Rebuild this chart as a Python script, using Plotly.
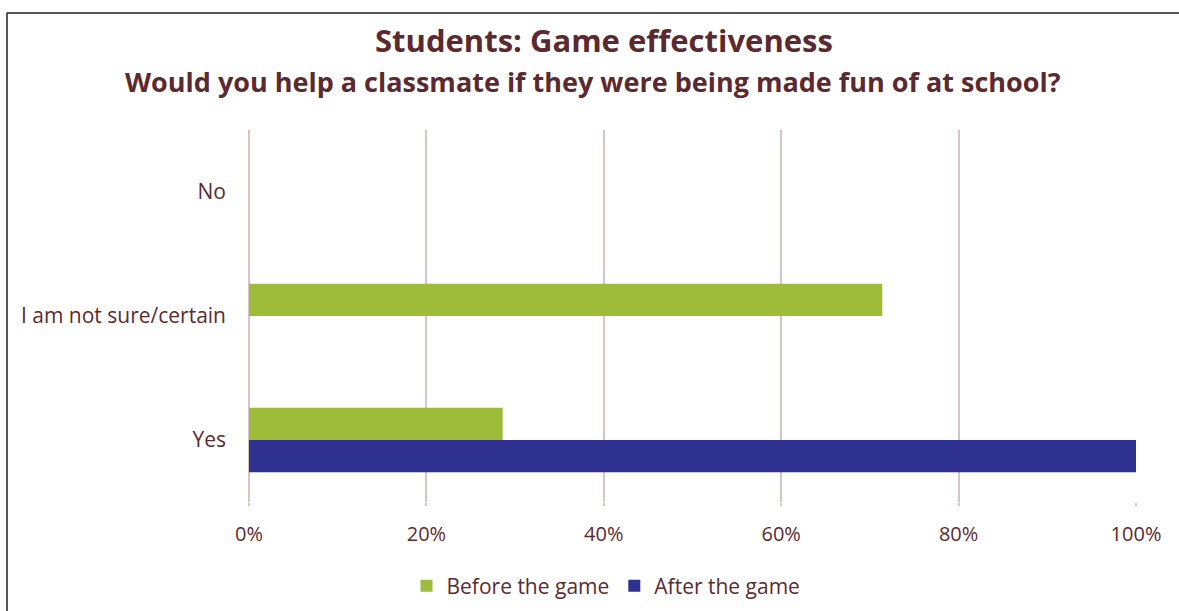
import plotly.graph_objects as go

# Survey answers (share of students) before and after playing the game
categories = ["Yes", "I am not sure/certain", "No"]
before_game = [0.286, 0.714, 0.0]
after_game = [1.0, 0.0, 0.0]
x_ticks = [0, 0.2, 0.4, 0.6, 0.8, 1.0]
x_tick_labels = ["0%", "20%", "40%", "60%", "80%", "100%"]

W, H = 1179, 611
L, R, T, B = 249, 43, 130, 109

text_color = "#5b2a30"
grid_color = "#d6c5c5"
font_family = "'Open Sans', Lato, sans-serif"

fig = go.Figure()
# Horizontal grouped bars stack the first trace lowest, so "After" goes first
fig.add_trace(go.Bar(
    y=categories, x=after_game, orientation="h", name="After the game",
    marker=dict(color="#2e3190", line=dict(width=0)), legendrank=2,
))
fig.add_trace(go.Bar(
    y=categories, x=before_game, orientation="h", name="Before the game",
    marker=dict(color="#9fbb3a", line=dict(width=0)), legendrank=1,
))


def px_to_paper_x(px):
    return (px - L) / (W - L - R)


def px_to_paper_y(py):
    return (H - B - py) / (H - T - B)


fig.update_layout(
    width=W, height=H,
    margin=dict(l=L, r=R, t=T, b=B, autoexpand=False),
    paper_bgcolor="white", plot_bgcolor="white",
    barmode="group", bargap=0.478, bargroupgap=0,
    font=dict(family=font_family, color=text_color, size=20),
    showlegend=True,
    legend=dict(
        orientation="h", x=px_to_paper_x(606), xanchor="center",
        y=px_to_paper_y(586), yanchor="middle",
        font=dict(size=21, color=text_color), traceorder="normal",
        itemwidth=30, bgcolor="rgba(0,0,0,0)",
    ),
    xaxis=dict(
        range=[0, 1], tickvals=x_ticks, ticktext=x_tick_labels,
        showgrid=True, gridcolor=grid_color, gridwidth=2,
        zeroline=True, zerolinecolor=grid_color, zerolinewidth=2,
        showline=False,
        ticks="outside", ticklen=3, tickcolor=grid_color, tickwidth=2,
        tickfont=dict(size=20, color=text_color), ticklabelstandoff=11,
        fixedrange=True,
    ),
    yaxis=dict(
        categoryorder="array", categoryarray=categories,
        range=[-0.5, 2.5], showgrid=False, zeroline=False, showline=False,
        ticks="", tickfont=dict(size=21, color=text_color), ticklabelstandoff=22,
        fixedrange=True,
    ),
    annotations=[
        dict(text="<b>Students: Game effectiveness</b>", xref="paper", yref="paper",
             x=px_to_paper_x(604), y=px_to_paper_y(40), xanchor="center", yanchor="middle",
             showarrow=False, font=dict(size=31, color=text_color, family=font_family)),
        dict(text="<b>Would you help a classmate if they were being made fun of at school?</b>",
             xref="paper", yref="paper",
             x=px_to_paper_x(593), y=px_to_paper_y(82), xanchor="center", yanchor="middle",
             showarrow=False, font=dict(size=27, color=text_color, family=font_family)),
    ],
    shapes=[
        # thin frame round the chart (top and left edges visible)
        dict(type="line", xref="paper", yref="paper",
             x0=px_to_paper_x(7), x1=px_to_paper_x(W + 5), y0=px_to_paper_y(13), y1=px_to_paper_y(13),
             line=dict(color="#222222", width=1.5)),
        dict(type="line", xref="paper", yref="paper",
             x0=px_to_paper_x(7), x1=px_to_paper_x(7), y0=px_to_paper_y(13), y1=px_to_paper_y(H + 5),
             line=dict(color="#222222", width=1.5)),
    ],
)

fig.write_html("out.html")
